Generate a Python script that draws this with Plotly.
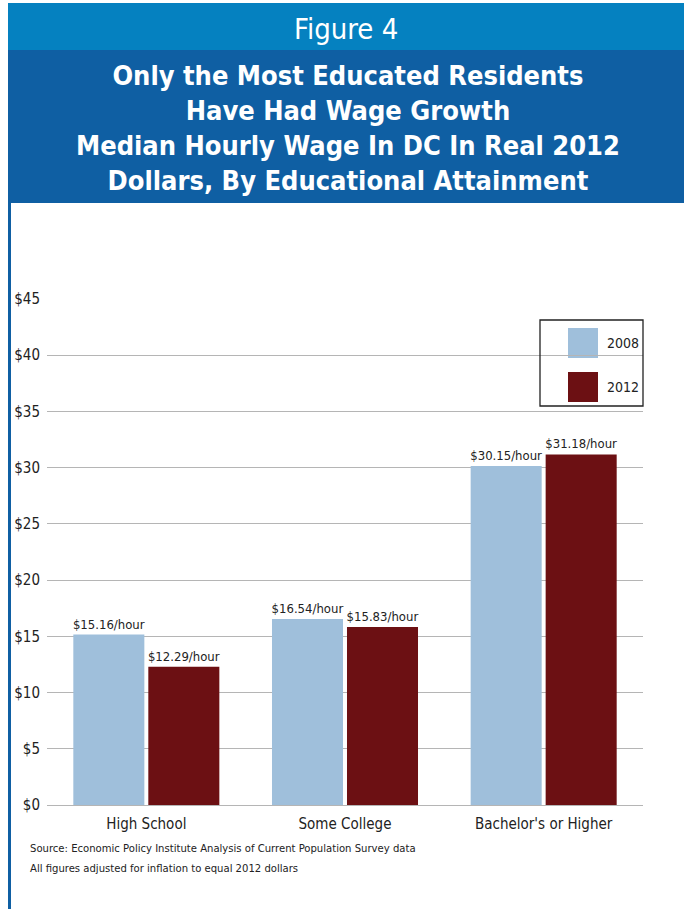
import plotly.graph_objects as go

# Median hourly wage in DC (real 2012 dollars) by educational attainment
categories = ["High School", "Some College", "Bachelor's or Higher"]
years = ["2008", "2012"]
wages_2008 = [15.16, 16.54, 30.15]
wages_2012 = [12.29, 15.83, 31.18]
tick_values = [0, 5, 10, 15, 20, 25, 30, 35, 40, 45]
tick_labels = ["$0", "$5", "$10", "$15", "$20", "$25", "$30", "$35", "$40", "$45"]

title_top = "Figure 4"
title_lines = [
    "Only the Most Educated Residents",
    "Have Had Wage Growth",
    "Median Hourly Wage In DC In Real 2012",
    "Dollars, By Educational Attainment",
]
notes = [
    "Source: Economic Policy Institute Analysis of Current Population Survey data",
    "All figures adjusted for inflation to equal 2012 dollars",
]

W, H = 684, 909
ML, MR, MT, MB = 47, 41, 299, 104
PW, PH = W - ML - MR, H - MT - MB

COND = "Liberation Sans Narrow, DejaVu Sans Condensed, Arial Narrow, sans-serif"
C2008 = "#9fbfdb"
C2012 = "#6c1013"
BLUE_LIGHT = "#0581c0"
BLUE_DARK = "#0f5fa3"


def px(x):
    return (x - ML) / PW


def py(y):
    return (H - MB - y) / PH


fig = go.Figure()
for name, vals, col in [(years[0], wages_2008, C2008), (years[1], wages_2012, C2012)]:
    fig.add_trace(go.Bar(
        x=categories, y=vals, name=name, marker=dict(color=col, line=dict(width=0)),
        text=[f"${v:.2f}/hour" for v in vals], textposition="outside",
        textfont=dict(family=COND, size=13, color="#222"),
        constraintext="none", cliponaxis=False, showlegend=False,
    ))

shapes = [
    # header banner
    dict(type="rect", xref="paper", yref="paper", x0=px(8), x1=px(W), y0=py(50), y1=py(3),
         fillcolor=BLUE_LIGHT, line=dict(width=0), layer="above"),
    dict(type="rect", xref="paper", yref="paper", x0=px(8), x1=px(W), y0=py(203), y1=py(50),
         fillcolor=BLUE_DARK, line=dict(width=0), layer="above"),
    # left frame rule
    dict(type="rect", xref="paper", yref="paper", x0=px(8), x1=px(11), y0=py(H), y1=py(203),
         fillcolor=BLUE_DARK, line=dict(width=0), layer="above"),
    # legend frame
    dict(type="rect", xref="paper", yref="paper", x0=px(540), x1=px(643), y0=py(406), y1=py(320),
         fillcolor="rgba(0,0,0,0)", line=dict(color="#222", width=1.3), layer="above"),
]

annotations = [
    dict(text=title_top, xref="paper", yref="paper", x=px(346), y=py(29), showarrow=False,
         font=dict(family=COND, size=29, color="white"), xanchor="center", yanchor="middle"),
    dict(text="<b>" + "<br>".join(title_lines) + "</b>", xref="paper", yref="paper",
         x=px(348), y=py(128), showarrow=False, align="center",
         font=dict(family=COND, size=27, color="white"), xanchor="center", yanchor="middle"),
]

# legend entries
for i, (name, col) in enumerate([(years[0], C2008), (years[1], C2012)]):
    top = 328 + i * 44
    shapes.append(dict(type="rect", xref="paper", yref="paper", x0=px(568), x1=px(598),
                       y0=py(top + 30), y1=py(top), fillcolor=col, line=dict(width=0),
                       layer="below"))
    annotations.append(dict(text=name, xref="paper", yref="paper", x=px(605), y=py(top + 15),
                            showarrow=False, xanchor="left", yanchor="middle",
                            font=dict(family=COND, size=14, color="#222")))

for i, line in enumerate(notes):
    annotations.append(dict(text=line, xref="paper", yref="paper", x=px(28), y=py(848 + i * 20),
                            showarrow=False, xanchor="left", yanchor="middle",
                            font=dict(family=COND, size=11.2, color="#222")))

fig.update_layout(
    width=W, height=H, margin=dict(l=ML, r=MR, t=MT, b=MB, autoexpand=False),
    paper_bgcolor="white", plot_bgcolor="rgba(0,0,0,0)",
    barmode="group", bargap=0.245, bargroupgap=0.053,
    shapes=shapes, annotations=annotations, showlegend=False,
    xaxis=dict(showgrid=False, showline=False, ticks="", ticklabelstandoff=8,
               tickfont=dict(family=COND, size=15, color="#222")),
    yaxis=dict(range=[0, 45], tickvals=tick_values, ticktext=tick_labels,
               showgrid=True, gridcolor="#b5b5b5", gridwidth=1, zeroline=True,
               zerolinecolor="#b5b5b5", zerolinewidth=1, showline=False, ticks="",
               ticklabelstandoff=6, tickfont=dict(family=COND, size=15, color="#222")),
)

fig.write_html("out.html")
